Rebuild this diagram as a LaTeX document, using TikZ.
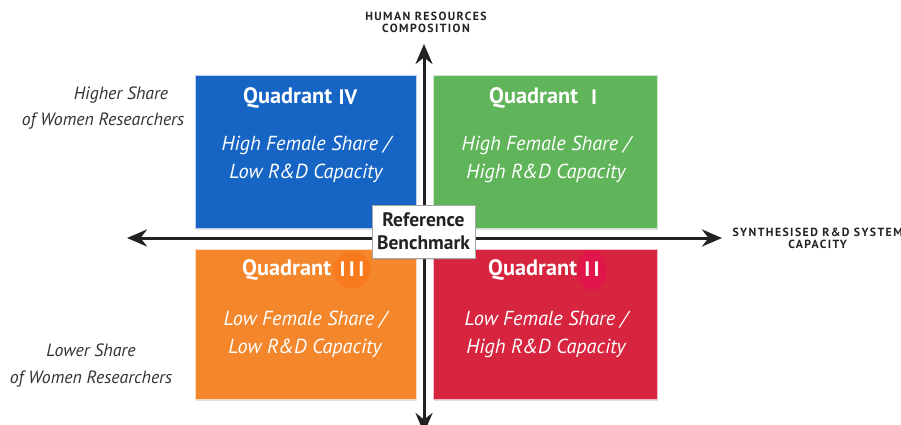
\documentclass[tikz,border=0pt]{standalone}
\usepackage{fontspec}
\setmainfont{PT Sans}
\usetikzlibrary{arrows.meta,shadows}
\definecolor{qblue}{HTML}{1664C4}
\definecolor{qgreen}{HTML}{60B45A}
\definecolor{qorange}{HTML}{F4862C}
\definecolor{qred}{HTML}{D8253F}
\definecolor{discorange}{HTML}{F97A1C}
\definecolor{discred}{HTML}{E0154A}
\definecolor{axisc}{HTML}{222222}
\definecolor{labelc}{HTML}{333333}
\begin{document}
\begin{tikzpicture}[x=1pt,y=-1pt,
  quad/.style={draw=white!70!#1, line width=0.6pt, fill=#1,
    drop shadow={shadow xshift=1.2pt, shadow yshift=-1.5pt, opacity=0.25}},
  qtitle/.style={text=white, font=\bfseries\fontsize{22.3}{24}\selectfont, inner sep=0pt},
  qnum/.style={text=white, font=\bfseries\fontsize{21}{24}\selectfont, inner sep=0pt},
  qsub/.style={text=white, font=\itshape\fontsize{20.3}{28}\selectfont, align=center, anchor=center},
  sidelab/.style={text=labelc, font=\itshape\fontsize{17.8}{26.5}\selectfont, align=center},
  axlab/.style={text=axisc, font=\bfseries\addfontfeature{LetterSpace=12}\fontsize{11.8}{12}\selectfont, align=center},
  axis/.style={draw=axisc, line width=3pt, -{Stealth[length=20pt,width=17pt]}}
]
\useasboundingbox[fill=white] (0,0) rectangle (901,425);

% quadrant panels
\node[quad=qblue,   minimum width=221pt, minimum height=153pt, inner sep=0pt] (q4) at (305.5,151.5) {};
\node[quad=qgreen,  minimum width=224pt, minimum height=153pt, inner sep=0pt] (q1) at (545,151.5) {};
\node[quad=qorange, minimum width=221pt, minimum height=150pt, inner sep=0pt] (q3) at (305.5,324) {};
\node[quad=qred,    minimum width=224pt, minimum height=150pt, inner sep=0pt] (q2) at (545,324) {};

% highlight discs behind the lower numerals
\fill[discorange] (352,270) circle (18.5pt);
\fill[discred] (592,270) ellipse (15pt and 20pt);

% quadrant titles
\node[qtitle, anchor=west] (t4) at (243,98) {Quadrant};
\node[qnum] (n4) at (348,97) {IV};
\node[qtitle, anchor=west] (t1) at (489,98) {Quadrant};
\node[qnum] (n1) at (594,97) {I};
\node[qtitle, anchor=west] (t3) at (242,270) {Quadrant};
\node[qnum] (n3) at (352,269) {I\,I\,I};
\node[qtitle, anchor=west] (t2) at (488,270) {Quadrant};
\node[qnum] (n2) at (592,269) {I\,I};

% quadrant descriptions
\node[qsub] (s4) at (306,159) {High Female Share /\\Low R\&D Capacity};
\node[qsub] (s1) at (546,159) {High Female Share /\\High R\&D Capacity};
\node[qsub] (s3) at (305,334) {Low Female Share /\\Low R\&D Capacity};
\node[qsub] (s2) at (546,334) {Low Female Share /\\High R\&D Capacity};

% axes
\coordinate (origin) at (424,238);
\coordinate (vbot) at (424,433);
\coordinate (vtop) at (424,44);
\coordinate (hleft) at (127,238);
\coordinate (hright) at (722,238);
\draw[axis] (origin) -- (vtop);
\draw[axis] (origin) -- (vbot);
\draw[axis] (origin) -- (hleft);
\draw[axis] (origin) -- (hright);

% centre benchmark
\node[draw=black!35, fill=white, line width=0.6pt, minimum width=103pt, minimum height=53pt,
      inner sep=0pt, align=center, text=axisc,
      font=\bfseries\fontsize{19.5}{23}\selectfont,
      drop shadow={shadow xshift=1pt, shadow yshift=-1.5pt, opacity=0.25}]
      (bench) at (423.5,231.5) {Reference\\Benchmark};

% axis titles
\node[axlab] (ytitle) at (426,22) {HUMAN RESOURCES\\COMPOSITION};
\node[axlab, anchor=west] (xtitle) at (729,238) {SYNTHESISED R\&D SYSTEM\\CAPACITY};

% side labels
\node[sidelab] (hi1) at (121,95) {Higher Share};
\node[sidelab] (hi2) at (103,121) {of Women Researchers};
\node[sidelab] (lo) at (91,365.5) {Lower Share\\of Women Researchers};
\end{tikzpicture}
\end{document}
